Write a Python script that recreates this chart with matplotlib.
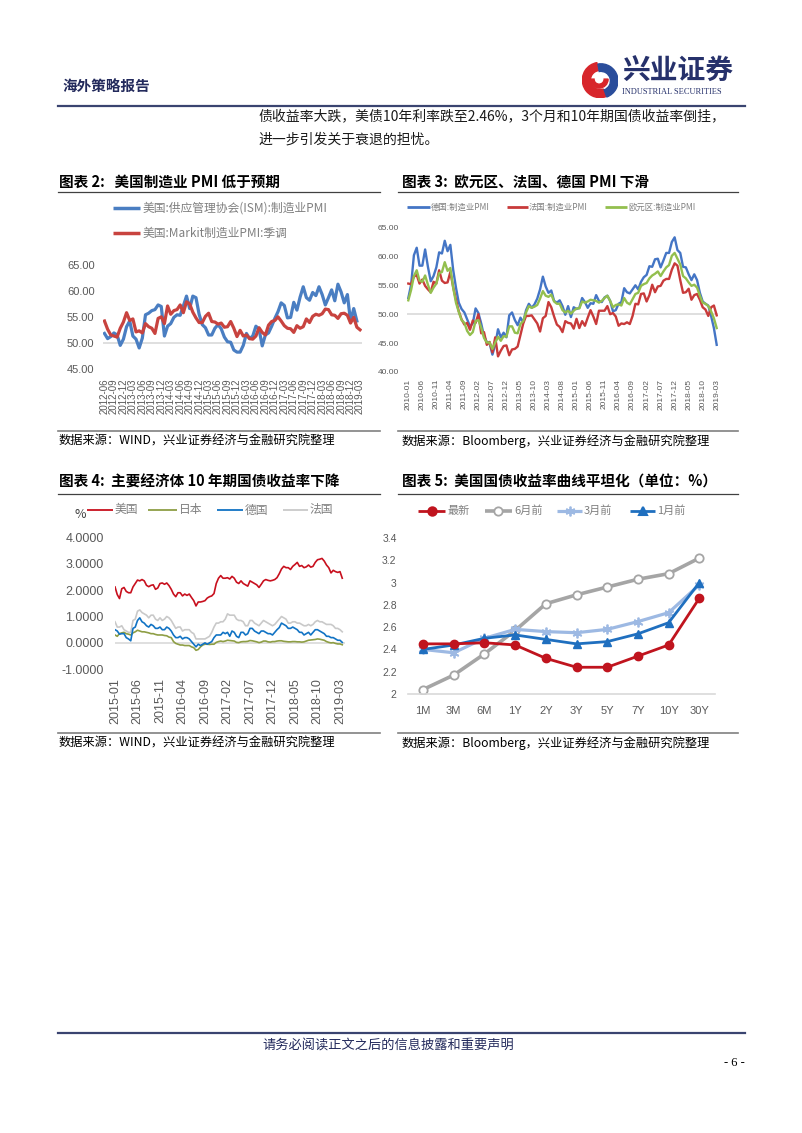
import matplotlib
matplotlib.use("Agg")
import matplotlib.pyplot as plt
import numpy as np
import pandas as pd
from matplotlib.lines import Line2D
from matplotlib.patches import Wedge

plt.rcParams['font.family'] = ['Noto Sans CJK SC', 'DejaVu Sans']

# ---------------- data ----------------
# chart 2: US manufacturing PMI, monthly 2012-06 .. 2019-03
pmi_us_months = [str(p) for p in pd.period_range("2012-06", "2019-03", freq="M")]
ism_pmi = [
    51.8, 50.8, 51.2, 51.9, 51.5, 49.5, 50.7,
    53.1, 54.2, 51.3, 50.7, 49.0, 50.9, 55.4, 55.7, 56.2, 56.4, 57.3, 57.0,
    51.3, 53.2, 53.7, 54.9, 55.4, 55.3, 57.1, 59.0, 56.6, 59.0, 58.7, 55.5,
    53.5, 52.9, 51.5, 51.5, 52.8, 53.5, 52.7, 51.1, 50.2, 50.1, 48.6, 48.2,
    48.2, 49.5, 51.8, 50.8, 51.3, 53.2, 52.6, 49.4, 51.5, 51.9, 53.2, 54.7,
    56.0, 57.7, 57.2, 54.8, 54.9, 57.8, 56.3, 58.8, 60.8, 58.7, 58.2, 59.7,
    59.1, 60.8, 59.3, 57.3, 58.7, 60.2, 58.1, 61.3, 59.8, 57.7, 59.3, 54.1,
    56.6, 54.2, np.nan,
]
markit_pmi = [
    54.2, 52.6, 51.5, 51.3, 51.1, 52.8, 54.0,
    55.8, 54.3, 54.6, 52.1, 52.3, 51.9, 53.7, 53.1, 52.8, 51.8, 54.7, 55.0,
    53.7, 57.1, 55.5, 56.2, 56.4, 57.3, 55.8, 57.9, 57.5, 55.9, 54.8, 53.9,
    53.9, 55.1, 55.7, 54.1, 54.0, 53.6, 53.8, 53.0, 53.1, 54.1, 52.8, 51.2,
    52.4, 51.3, 51.5, 50.8, 50.7, 51.3, 52.9, 52.0, 51.5, 53.4, 54.1, 54.3,
    55.0, 54.2, 53.3, 52.8, 52.7, 52.0, 53.3, 52.8, 53.1, 54.6, 53.9, 55.1,
    55.5, 55.3, 55.6, 56.5, 56.4, 55.4, 55.3, 54.7, 55.6, 55.7, 55.3, 53.8,
    54.9, 53.0, 52.5,
]

# chart 3: euro area PMI, monthly 2010-01 .. 2019-03
pmi_eu_months = [str(p) for p in pd.period_range("2010-01", "2019-03", freq="M")]
de_pmi = [
    52.8, 55.1, 60.2, 61.5, 58.4, 58.4, 61.2, 58.2, 55.7, 56.6, 58.1, 60.7,
    60.5, 62.7, 60.9, 62.0, 57.7, 54.6, 52.0, 50.9, 50.3, 49.1, 47.9, 48.4,
    51.0, 50.2, 48.4, 46.2, 45.2, 45.0, 43.0, 44.7, 47.4, 46.0, 46.8, 46.0,
    49.8, 50.3, 49.0, 48.1, 49.4, 48.6, 50.7, 51.8, 51.1, 51.7, 52.7, 54.3,
    56.5, 54.8, 53.7, 54.1, 52.3, 52.0, 52.4, 51.4, 49.9, 51.4, 49.5, 51.2,
    50.9, 51.1, 52.8, 52.1, 51.1, 51.9, 51.8, 53.3, 52.3, 52.1, 52.9, 53.2,
    52.3, 50.5, 50.7, 51.8, 52.1, 54.5, 53.8, 53.6, 54.3, 55.0, 54.3, 55.6,
    56.4, 56.8, 58.3, 58.2, 59.5, 59.6, 58.1, 59.3, 60.6, 60.6, 62.5, 63.3,
    61.1, 60.6, 58.2, 58.1, 56.9, 55.9, 56.9, 55.9, 53.7, 52.2, 51.8, 51.5,
    49.7, 47.6, 44.7,
]
fr_pmi = [
    55.3, 55.2, 56.5, 56.8, 55.3, 56.0, 54.9, 54.3, 53.8, 55.6, 55.3, 57.6,
    55.8, 55.4, 55.5, 57.3, 54.7, 52.5, 50.5, 49.1, 48.2, 48.5, 47.3, 48.9,
    48.5, 50.0, 46.7, 46.9, 44.7, 45.2, 43.4, 46.0, 42.7, 43.7, 44.5, 44.6,
    42.9, 43.9, 44.0, 44.4, 46.4, 48.4, 49.7, 49.7, 49.8, 49.1, 48.4, 47.0,
    49.3, 49.7, 52.1, 51.2, 49.6, 48.2, 47.8, 46.9, 48.8, 48.5, 48.4, 47.5,
    49.2, 47.6, 48.8, 48.0, 49.4, 50.7, 49.6, 48.3, 50.6, 50.6, 50.6, 51.4,
    50.0, 50.2, 49.6, 48.0, 48.4, 48.3, 48.6, 48.3, 49.7, 51.8, 51.7, 53.5,
    53.6, 52.2, 53.3, 55.1, 53.8, 54.8, 54.9, 55.8, 56.1, 56.1, 57.7, 58.8,
    58.4, 55.9, 53.7, 53.8, 54.4, 52.5, 53.3, 53.5, 52.5, 51.2, 50.8, 49.7,
    51.2, 51.5, 49.8,
]
ez_pmi = [
    52.4, 54.2, 56.6, 57.6, 55.8, 55.6, 56.7, 55.1, 53.7, 54.6, 55.3, 57.1,
    57.3, 59.0, 57.5, 58.0, 54.6, 52.0, 50.4, 49.0, 48.5, 47.1, 46.4, 46.9,
    48.8, 49.0, 47.7, 45.9, 45.1, 45.1, 44.0, 45.1, 46.1, 45.4, 46.2, 46.1,
    47.9, 47.9, 46.8, 46.7, 48.3, 48.8, 50.3, 51.4, 51.1, 51.3, 51.6, 52.7,
    54.0, 53.2, 53.0, 53.4, 52.2, 51.8, 51.8, 50.7, 50.3, 50.6, 50.1, 50.6,
    51.0, 51.0, 52.2, 52.0, 52.2, 52.5, 52.4, 52.3, 52.0, 52.3, 52.8, 53.2,
    52.3, 51.2, 51.6, 51.7, 51.5, 52.8, 52.0, 51.7, 52.6, 53.5, 53.7, 54.9,
    55.2, 55.4, 56.2, 56.7, 57.0, 57.4, 56.6, 57.4, 58.1, 58.5, 60.1, 60.6,
    59.6, 58.6, 56.6, 56.2, 55.5, 54.9, 55.1, 54.6, 53.2, 52.0, 51.8, 51.4,
    50.5, 49.3, 47.6,
]

# chart 4: 10Y government bond yields, twice a month 2015-01 .. 2019-03
bond_ticks = ["2015-01", "2015-06", "2015-11", "2016-04", "2016-09", "2017-02",
              "2017-07", "2017-12", "2018-05", "2018-10", "2019-03"]
us_10y = [
    2.12, 1.83, 1.68, 2.05, 2.10, 1.95, 1.90, 1.90, 2.12, 2.25, 2.38, 2.35,
    2.40, 2.35, 2.18, 2.13, 2.18, 2.20, 2.03, 2.08, 2.25, 2.27, 2.22, 2.27,
    2.17, 2.03, 1.85, 1.75, 1.90, 1.90, 1.78, 1.85, 1.80, 1.85, 1.72, 1.60,
    1.40, 1.55, 1.55, 1.57, 1.60, 1.70, 1.75, 1.78, 1.87, 2.25, 2.45, 2.55,
    2.45, 2.45, 2.47, 2.42, 2.52, 2.45, 2.30, 2.25, 2.35, 2.25, 2.20, 2.15,
    2.35, 2.30, 2.25, 2.20, 2.10, 2.22, 2.35, 2.40, 2.37, 2.35, 2.37, 2.40,
    2.47, 2.62, 2.80, 2.90, 2.85, 2.85, 2.78, 2.90, 2.97, 3.05, 2.90, 2.93,
    2.85, 2.88, 2.95, 2.87, 2.90, 3.05, 3.15, 3.17, 3.20, 3.10, 2.95, 2.85,
    2.65, 2.75, 2.70, 2.67, 2.70, 2.45,
]
jp_10y = [
    0.30, 0.25, 0.35, 0.38, 0.40, 0.35, 0.33, 0.30, 0.38, 0.42, 0.48, 0.45,
    0.42, 0.42, 0.40, 0.38, 0.35, 0.35, 0.32, 0.30, 0.30, 0.30, 0.28, 0.27,
    0.22, 0.20, 0.05, -0.02, -0.05, -0.08, -0.08, -0.10, -0.10, -0.10, -0.15, -0.18,
    -0.28, -0.25, -0.15, -0.08, -0.05, -0.05, -0.06, -0.05, -0.05, 0.02, 0.05, 0.07,
    0.05, 0.07, 0.10, 0.09, 0.08, 0.07, 0.02, 0.01, 0.04, 0.05, 0.05, 0.06,
    0.09, 0.08, 0.06, 0.04, 0.01, 0.03, 0.07, 0.07, 0.04, 0.03, 0.05, 0.05,
    0.07, 0.08, 0.08, 0.06, 0.05, 0.04, 0.04, 0.05, 0.05, 0.04, 0.04, 0.03,
    0.04, 0.07, 0.10, 0.11, 0.12, 0.13, 0.15, 0.14, 0.12, 0.10, 0.05, 0.02,
    0.00, 0.01, -0.02, -0.04, -0.04, -0.07,
]
de_10y = [
    0.50, 0.45, 0.33, 0.35, 0.35, 0.20, 0.15, 0.08, 0.55, 0.60, 0.85, 0.95,
    0.80, 0.75, 0.65, 0.60, 0.70, 0.65, 0.55, 0.55, 0.60, 0.50, 0.50, 0.60,
    0.55, 0.45, 0.30, 0.20, 0.20, 0.25, 0.15, 0.20, 0.20, 0.15, 0.05, -0.05,
    -0.15, -0.05, -0.10, -0.05, 0.00, -0.05, 0.00, 0.05, 0.20, 0.30, 0.30, 0.30,
    0.40, 0.35, 0.40, 0.25, 0.45, 0.40, 0.25, 0.20, 0.40, 0.40, 0.30, 0.35,
    0.55, 0.55, 0.45, 0.40, 0.35, 0.45, 0.45, 0.40, 0.35, 0.35, 0.30, 0.40,
    0.50, 0.58, 0.75, 0.70, 0.65, 0.55, 0.55, 0.60, 0.55, 0.50, 0.40, 0.40,
    0.30, 0.35, 0.40, 0.30, 0.40, 0.50, 0.50, 0.45, 0.40, 0.35, 0.25, 0.25,
    0.20, 0.20, 0.15, 0.10, 0.10, 0.02,
]
fr_10y = [
    0.80, 0.60, 0.60, 0.65, 0.50, 0.45, 0.40, 0.40, 0.85, 0.90, 1.20, 1.25,
    1.15, 1.10, 1.05, 0.95, 1.05, 1.05, 0.90, 0.85, 0.95, 0.85, 0.90, 1.00,
    0.95, 0.85, 0.70, 0.55, 0.60, 0.60, 0.45, 0.50, 0.50, 0.50, 0.40, 0.35,
    0.15, 0.15, 0.15, 0.15, 0.15, 0.20, 0.25, 0.40, 0.60, 0.75, 0.75, 0.80,
    0.80, 0.90, 1.10, 1.05, 1.05, 1.05, 0.90, 0.85, 0.85, 0.80, 0.65, 0.65,
    0.85, 0.85, 0.75, 0.70, 0.65, 0.75, 0.85, 0.80, 0.75, 0.70, 0.65, 0.70,
    0.80, 0.90, 1.00, 0.95, 0.90, 0.75, 0.75, 0.80, 0.80, 0.75, 0.75, 0.70,
    0.65, 0.65, 0.70, 0.65, 0.70, 0.80, 0.85, 0.80, 0.80, 0.75, 0.70, 0.70,
    0.70, 0.65, 0.55, 0.55, 0.50, 0.42,
]

# chart 5: US treasury curve
tenors = ["1M", "3M", "6M", "1Y", "2Y", "3Y", "5Y", "7Y", "10Y", "30Y"]
curve_now = [2.45, 2.45, 2.46, 2.44, 2.32, 2.24, 2.24, 2.34, 2.44, 2.86]
curve_6m = [2.04, 2.17, 2.36, 2.57, 2.81, 2.89, 2.96, 3.03, 3.08, 3.22]
curve_3m = [2.40, 2.37, 2.50, 2.58, 2.56, 2.55, 2.58, 2.65, 2.73, 2.98]
curve_1m = [2.40, 2.44, 2.50, 2.53, 2.49, 2.45, 2.47, 2.54, 2.64, 3.00]

# ---------------- page ----------------
W, H = 802, 1133
fig = plt.figure(figsize=(W / 100, H / 100), dpi=100)
fig.patch.set_facecolor("white")

NAVY = "#232A5C"
TICK = "#595959"
LEG = "#7F7F7F"


def fx(x):
    return x / W


def fy(y):
    return 1 - y / H


def add_ax(left, top, right, bottom):
    ax = fig.add_axes([fx(left), fy(bottom), (right - left) / W, (bottom - top) / H])
    ax.set_facecolor("none")
    for s in ax.spines.values():
        s.set_visible(False)
    return ax


def ftext(x, y, s, **kw):
    kw.setdefault("va", "center")
    fig.text(fx(x), fy(y), s, **kw)


def fline(x0, x1, y, **kw):
    fig.add_artist(Line2D([fx(x0), fx(x1)], [fy(y), fy(y)],
                          transform=fig.transFigure, **kw))


def legend_key(x0, x1, y, color, lw, marker=None, ms=6, mfc=None, mew=1.5):
    fline(x0, x1, y, color=color, lw=lw, solid_capstyle="butt")
    if marker:
        fig.add_artist(Line2D([fx((x0 + x1) / 2)], [fy(y)], transform=fig.transFigure,
                              marker=marker, ms=ms, color=color,
                              mfc=mfc if mfc else color, mew=mew, lw=0))


# header
ftext(62, 87, "海外策略报告", fontsize=10.5, fontweight="bold", color=NAVY)
logo = add_ax(582, 62, 618, 98)
logo.set_xlim(-1, 1)
logo.set_ylim(-1, 1)
logo.set_xticks([])
logo.set_yticks([])
logo.add_patch(Wedge((0, 0), 0.98, 100, 290, width=0.45, color="#D7262B"))
logo.add_patch(Wedge((0.05, -0.05), 0.95, 290, 100, width=0.42, color="#2A4D9B"))
logo.add_patch(Wedge((-0.05, 0.05), 0.5, 180, 360, width=0.22, color="#D7262B"))
ftext(622, 72, "兴业证券", fontsize=20, fontweight="bold", color="#26316B")
ftext(622, 92, "INDUSTRIAL SECURITIES", fontsize=6, color="#26316B",
      family="Liberation Serif")
fline(58, 745, 106, color="#3A4470", lw=1.6)

ftext(258, 116, "债收益率大跌，美债10年利率跌至2.46%，3个月和10年期国债收益率倒挂，",
      fontsize=10, color="#1A1A1A")
ftext(258, 140, "进一步引发关于衰退的担忧。", fontsize=10, color="#1A1A1A")

# titles, rules and sources
ftext(59, 182, "图表 2:   美国制造业 PMI 低于预期", fontsize=10.5, fontweight="bold")
ftext(402, 182, "图表 3:  欧元区、法国、德国 PMI 下滑", fontsize=10.5, fontweight="bold")
ftext(59, 482, "图表 4:  主要经济体 10 年期国债收益率下降", fontsize=10.5, fontweight="bold")
ftext(402, 482, "图表 5:  美国国债收益率曲线平坦化（单位：%）", fontsize=10.5, fontweight="bold")
for y in (192, 494):
    fline(58, 380, y, color="#404040", lw=0.9)
    fline(398, 738, y, color="#404040", lw=0.9)
for y in (431, 733):
    fline(58, 380, y, color="#808080", lw=1.2)
    fline(398, 738, y, color="#808080", lw=1.2)
ftext(59, 441, "数据来源：WIND，兴业证券经济与金融研究院整理", fontsize=8.8)
ftext(402, 441, "数据来源：Bloomberg，兴业证券经济与金融研究院整理", fontsize=8.8)
ftext(59, 743, "数据来源：WIND，兴业证券经济与金融研究院整理", fontsize=8.8)
ftext(402, 743, "数据来源：Bloomberg，兴业证券经济与金融研究院整理", fontsize=8.8)

# footer
fline(58, 745, 1033, color="#3A4470", lw=1.6)
ftext(388, 1046, "请务必阅读正文之后的信息披露和重要声明", fontsize=9.5,
      color=NAVY, ha="center")
ftext(745, 1063, "- 6 -", fontsize=9, ha="right", family="Liberation Serif")

# ---------------- chart 2 ----------------
ax2 = add_ax(102.9, 265, 361.6, 368.7)
x2 = np.arange(len(pmi_us_months))
ax2.axhline(50, color="#D9D9D9", lw=1.2, zorder=1)
ax2.plot(x2, ism_pmi, color="#4A7EC2", lw=2.3, zorder=3)
ax2.plot(x2, markit_pmi, color="#C8433F", lw=2.3, zorder=3)
ax2.set_xlim(-0.5, len(x2) - 0.5)
ax2.set_ylim(45, 65)
ax2.set_yticks([45, 50, 55, 60, 65])
ax2.set_yticklabels(["45.00", "50.00", "55.00", "60.00", "65.00"],
                    family="Liberation Sans", fontsize=8, color=TICK)
ax2.set_xticks(x2[::3])
ax2.set_xticklabels(pmi_us_months[::3], rotation=90, family="Liberation Sans",
                    fontsize=7, color=TICK)
ax2.tick_params(axis="y", length=0, pad=6)
ax2.tick_params(axis="x", length=0, pad=7)
legend_key(113, 140, 208, "#4A7EC2", 2.5)
ftext(143, 208, "美国:供应管理协会(ISM):制造业PMI", fontsize=8.5, color=LEG)
legend_key(113, 140, 233, "#C8433F", 2.5)
ftext(143, 233, "美国:Markit制造业PMI:季调", fontsize=8.5, color=LEG)

# ---------------- chart 3 ----------------
ax3 = add_ax(406.9, 227.5, 718.1, 372)
x3 = np.arange(len(pmi_eu_months))
ax3.axhline(50, color="#D9D9D9", lw=1.2, zorder=1)
ax3.plot(x3, de_pmi, color="#4475C5", lw=1.7, zorder=3)
ax3.plot(x3, fr_pmi, color="#C83A3A", lw=1.7, zorder=3)
ax3.plot(x3, ez_pmi, color="#93BF4E", lw=1.7, zorder=4)
ax3.set_xlim(-0.5, len(x3) - 0.5)
ax3.set_ylim(40, 65)
ax3.set_yticks([40, 45, 50, 55, 60, 65])
ax3.set_yticklabels(["40.00", "45.00", "50.00", "55.00", "60.00", "65.00"],
                    family="Liberation Sans", fontsize=6, color=TICK)
ax3.set_xticks(x3[::5])
ax3.set_xticklabels(pmi_eu_months[::5], rotation=90, family="Liberation Sans",
                    fontsize=6, color=TICK)
ax3.tick_params(axis="y", length=0, pad=6)
ax3.tick_params(axis="x", length=0, pad=5)
legend_key(407, 430, 207, "#4475C5", 2)
ftext(431, 207, "德国:制造业PMI", fontsize=6, color=LEG)
legend_key(507, 528, 207, "#C83A3A", 2)
ftext(529, 207, "法国:制造业PMI", fontsize=6, color=LEG)
legend_key(605, 627, 207, "#93BF4E", 2)
ftext(628, 207, "欧元区:制造业PMI", fontsize=6, color=LEG)

# ---------------- chart 4 ----------------
ax4 = add_ax(115, 537.3, 344.5, 669.3)
x4 = np.arange(len(us_10y)) / 2.0
ax4.axhline(0, color="#D9D9D9", lw=1.2, zorder=1)
ax4.plot(x4, fr_10y, color="#C9C9C9", lw=1.2, zorder=2)
ax4.plot(x4, jp_10y, color="#8E9E45", lw=1.2, zorder=3)
ax4.plot(x4, de_10y, color="#1173C4", lw=1.2, zorder=4)
ax4.plot(x4, us_10y, color="#C8101E", lw=1.2, zorder=5)
ax4.set_xlim(0, 51)
ax4.set_ylim(-1, 4)
ax4.set_yticks([-1, 0, 1, 2, 3, 4])
ax4.set_yticklabels(["-1.0000", "0.0000", "1.0000", "2.0000", "3.0000", "4.0000"],
                    family="Liberation Sans", fontsize=9, color=TICK)
ax4.set_xticks(np.arange(len(bond_ticks)) * 5)
ax4.set_xticklabels(bond_ticks, rotation=90, family="Liberation Sans",
                    fontsize=9, color=TICK)
ax4.tick_params(axis="y", length=0, pad=8)
ax4.tick_params(axis="x", length=0, pad=6.5)
ftext(80, 515, "%", fontsize=9, color="#404040", ha="center")
legend_key(87, 113, 510, "#C8101E", 1.3)
ftext(115, 510, "美国", fontsize=8.5, color=LEG)
legend_key(148, 177, 510, "#8E9E45", 1.3)
ftext(179, 510, "日本", fontsize=8.5, color=LEG)
legend_key(217, 243, 510, "#1173C4", 1.3)
ftext(245, 510, "德国", fontsize=8.5, color=LEG)
legend_key(283, 308, 510, "#C9C9C9", 1.3)
ftext(310, 510, "法国", fontsize=8.5, color=LEG)

# ---------------- chart 5 ----------------
ax5 = add_ax(407.7, 538, 714.7, 694)
x5 = np.arange(len(tenors))
ax5.plot(x5, curve_6m, color="#A5A5A5", lw=2.6, marker="o", ms=6,
         mfc="white", mew=1.3, zorder=2)
ax5.plot(x5, curve_3m, color="#9DB9E3", lw=2.3, marker=(6, 2, 0), ms=7,
         mew=1.3, zorder=3)
ax5.plot(x5, curve_1m, color="#1F6FBF", lw=2.0, marker="^", ms=6, zorder=4)
ax5.plot(x5, curve_now, color="#C0141E", lw=2.0, marker="o", ms=6, zorder=5)
ax5.set_xlim(-0.5, len(x5) - 0.5)
ax5.set_ylim(2, 3.4)
ax5.spines["bottom"].set_visible(True)
ax5.spines["bottom"].set_color("#D9D9D9")
ax5.spines["bottom"].set_linewidth(1.2)
ax5.set_yticks([2.0, 2.2, 2.4, 2.6, 2.8, 3.0, 3.2, 3.4])
ax5.set_yticklabels(["2", "2.2", "2.4", "2.6", "2.8", "3", "3.2", "3.4"],
                    family="Liberation Sans", fontsize=7.5, color=TICK)
ax5.set_xticks(x5)
ax5.set_xticklabels(tenors, family="Liberation Sans", fontsize=8, color=TICK)
ax5.tick_params(axis="y", length=0, pad=8)
ax5.tick_params(axis="x", length=0, pad=9)
legend_key(418, 445, 511, "#C0141E", 2.0, marker="o", ms=6)
ftext(448, 511, "最新", fontsize=8, color=LEG)
legend_key(485, 512, 511, "#A5A5A5", 2.6, marker="o", ms=6, mfc="white", mew=1.3)
ftext(514, 511, "6月前", fontsize=8, color=LEG)
legend_key(557, 582, 511, "#9DB9E3", 2.3, marker=(6, 2, 0), ms=7, mew=1.3)
ftext(584, 511, "3月前", fontsize=8, color=LEG)
legend_key(630, 655, 511, "#1F6FBF", 2.0, marker="^", ms=6)
ftext(657, 511, "1月前", fontsize=8, color=LEG)

fig.savefig("out.png", dpi=100, facecolor="white")
